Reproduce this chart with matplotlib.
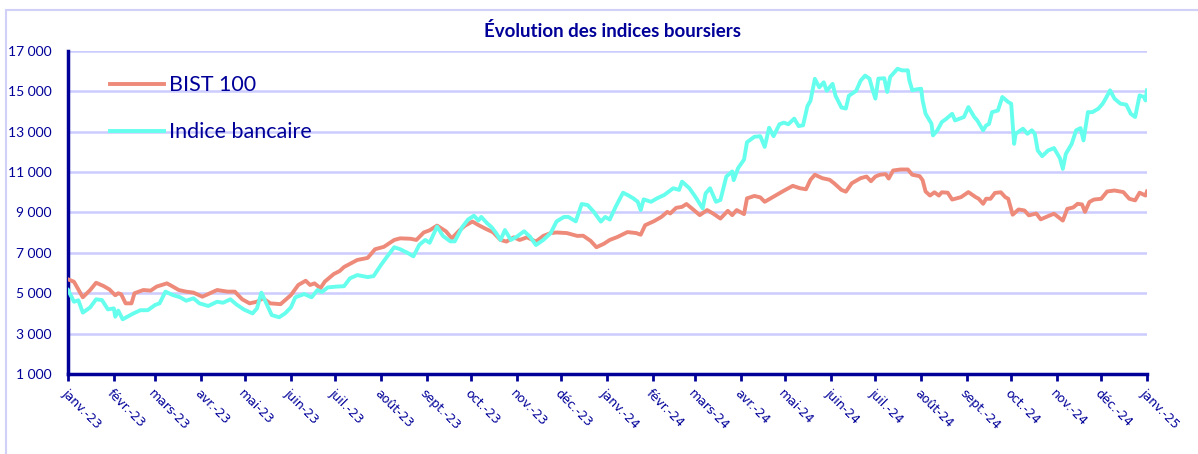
import matplotlib
matplotlib.use("Agg")
import matplotlib.pyplot as plt
import matplotlib.dates as mdates
from matplotlib.patches import Rectangle
import numpy as np
import pandas as pd

# Data (days since 2023-01-01, index level)
bist_days = [0, 4, 7, 10, 15, 19, 24, 28, 32, 34, 36, 39, 43, 45, 51, 56, 60, 67, 71, 75,
             80, 85, 91, 95, 101, 108, 113, 118, 123, 128, 132, 137, 144, 151, 156, 161, 164,
             167, 171, 174, 180, 184, 187, 196, 203, 208, 214, 221, 225, 232, 236, 241, 245,
             250, 256, 260, 265, 269, 274, 278, 283, 288, 293, 297, 302, 306, 311, 317, 322,
             327, 331, 338, 345, 349, 354, 358, 363, 367, 372, 379, 385, 388, 391, 397, 402,
             406, 408, 412, 416, 419, 424, 428, 433, 437, 442, 447, 450, 453, 458, 460, 465,
             469, 472, 476, 480, 485, 491, 496, 500, 503, 506, 511, 516, 519, 524, 527, 531,
             537, 541, 544, 547, 550, 554, 556, 559, 564, 569, 572, 577, 579, 581, 584, 587,
             590, 592, 596, 599, 605, 610, 615, 617, 620, 622, 625, 628, 632, 635, 637, 640,
             644, 648, 651, 656, 659, 664, 668, 674, 677, 681, 684, 687, 689, 692, 695, 700,
             704, 709, 715, 719, 723, 726, 730, 731]
bist_vals = [5690, 5570, 5180, 4800, 5160, 5520, 5360, 5190, 4900, 5000, 4950, 4500, 4500, 5000,
             5160, 5130, 5330, 5490, 5330, 5160, 5080, 5030, 4830, 4960, 5160, 5080, 5080, 4700,
             4500, 4580, 4750, 4500, 4460, 4910, 5410, 5620, 5410, 5490, 5250, 5580, 5950, 6100,
             6300, 6650, 6750, 7180, 7300, 7640, 7720, 7700, 7640, 8010, 8120, 8350, 8070, 7720,
             8100, 8350, 8550, 8380, 8190, 8020, 7640, 7560, 7770, 7640, 7770, 7560, 7840, 7980,
             8010, 7980, 7840, 7850, 7600, 7280, 7450, 7640, 7780, 8030, 7980, 7900, 8370, 8570,
             8780, 9030, 8950, 9230, 9280, 9420, 9120, 8870, 9120, 8950, 8700, 9080, 8870, 9120,
             8920, 9700, 9820, 9750, 9530, 9700, 9870, 10080, 10320, 10200, 10150, 10620, 10870,
             10700, 10620, 10450, 10120, 10030, 10450, 10700, 10780, 10550, 10780, 10870, 10900,
             10680, 11080, 11130, 11130, 10870, 10800, 10600, 10040, 9840, 10000, 9840, 10000,
             9980, 9640, 9760, 10010, 9760, 9680, 9430, 9680, 9680, 9970, 10000, 9760, 9680,
             8890, 9150, 9100, 8860, 8950, 8660, 8820, 8940, 8600, 9180, 9250, 9430, 9400, 9030,
             9520, 9640, 9680, 10040, 10090, 10010, 9680, 9600, 9980, 9840, 10040]

bank_days = [0, 4, 7, 10, 15, 19, 23, 27, 31, 32, 34, 37, 44, 49, 54, 59, 62, 66, 71, 76, 80,
             85, 89, 95, 101, 105, 110, 114, 119, 125, 128, 131, 135, 138, 143, 147, 151, 154,
             160, 165, 169, 172, 176, 182, 187, 191, 196, 203, 207, 212, 216, 221, 225, 230,
             234, 238, 242, 245, 250, 254, 259, 262, 267, 271, 275, 278, 280, 284, 287, 290,
             293, 296, 300, 304, 309, 313, 317, 322, 327, 331, 336, 339, 344, 348, 352, 356,
             361, 364, 367, 371, 376, 379, 383, 386, 388, 390, 395, 399, 404, 410, 414, 416,
             421, 425, 430, 432, 435, 439, 442, 446, 450, 451, 454, 458, 460, 465, 469, 472,
             475, 478, 482, 485, 488, 492, 495, 498, 501, 503, 506, 509, 512, 514, 518, 520,
             524, 527, 529, 534, 537, 540, 543, 545, 547, 549, 553, 555, 557, 562, 565, 569,
             570, 572, 575, 578, 579, 581, 585, 586, 589, 592, 595, 599, 601, 607, 610, 614,
             616, 620, 622, 624, 626, 630, 633, 637, 639, 641, 642, 647, 650, 653, 655, 657,
             660, 664, 668, 672, 674, 676, 680, 683, 686, 688, 691, 694, 698, 701, 703, 706,
             709, 713, 717, 720, 723, 726, 729, 730, 731]
bank_vals = [5160, 4580, 4650, 4040, 4300, 4700, 4660, 4200, 4250, 3840, 4140, 3710, 3990, 4160,
             4160, 4420, 4500, 5080, 4910, 4800, 4630, 4750, 4500, 4370, 4580, 4530, 4700, 4450,
             4200, 4000, 4250, 5030, 4400, 3920, 3810, 4000, 4300, 4800, 4960, 4800, 5160, 5060,
             5290, 5330, 5350, 5740, 5900, 5800, 5850, 6400, 6800, 7280, 7180, 7000, 6830, 7400,
             7640, 7500, 8300, 7840, 7570, 7570, 8270, 8650, 8840, 8600, 8780, 8460, 8270, 7980,
             7640, 8130, 7640, 7800, 8070, 7800, 7390, 7640, 7980, 8560, 8780, 8780, 8560, 9420,
             9370, 9050, 8550, 8780, 8650, 9280, 9980, 9870, 9700, 9530, 9120, 9650, 9530, 9700,
             9870, 10200, 10120, 10530, 10200, 9780, 9200, 9950, 10200, 9530, 9620, 10780, 11030,
             10600, 11200, 11620, 12480, 12750, 12780, 12250, 13200, 12780, 13370, 13450, 13370,
             13650, 13280, 13320, 14280, 14530, 15620, 15200, 15450, 15030, 15370, 14780, 14200,
             14150, 14780, 15030, 15530, 15780, 15630, 15100, 14640, 15630, 15650, 14970, 15710,
             16120, 16040, 16040, 15550, 15050, 15100, 15130, 14550, 13890, 13400, 12820, 13070,
             13480, 13640, 13890, 13560, 13730, 14220, 13730, 13560, 13070, 13310, 13390, 13970,
             14050, 14720, 14470, 14390, 12400, 12900, 13150, 12900, 13070, 12900, 12070, 11790,
             12070, 12190, 11690, 11160, 11900, 12400, 13070, 13180, 12570, 13970, 13970, 14140,
             14390, 14640, 15050, 14640, 14390, 14340, 13890, 13730, 14800, 14720, 14550, 15050]

month_labels = ["janv.-23", "févr.-23", "mars-23", "avr.-23", "mai-23", "juin-23", "juil.-23",
                "août-23", "sept.-23", "oct.-23", "nov.-23", "déc.-23", "janv.-24", "févr.-24",
                "mars-24", "avr.-24", "mai-24", "juin-24", "juil.-24", "août-24", "sept.-24",
                "oct.-24", "nov.-24", "déc.-24", "janv.-25"]
y_ticks = [1000, 3000, 5000, 7000, 9000, 11000, 13000, 15000, 17000]

navy = "#000099"
grid_col = "#CCCCFF"
start = pd.Timestamp("2023-01-01")
bist_dates = start + pd.to_timedelta(bist_days, unit="D")
bank_dates = start + pd.to_timedelta(bank_days, unit="D")
month_ticks = pd.date_range("2023-01-01", "2025-01-01", freq="MS")

fig = plt.figure(figsize=(11.98, 4.54), dpi=100)
fig.patches.append(Rectangle((0.005, -0.2), 1.2, 1.178, transform=fig.transFigure,
                             fill=False, edgecolor="#D0D0F8", linewidth=1.5))
ax = fig.add_axes([0.0568, 0.1762, 0.9006, 0.7115])

ax.plot(bist_dates, bist_vals, color="#EE8A7A", lw=2.8, label="BIST 100", zorder=3)
ax.plot(bank_dates, bank_vals, color="#66FFEE", lw=2.8, label="Indice bancaire", zorder=3)

ax.set_xlim(start, pd.Timestamp("2025-01-01"))
ax.set_ylim(1000, 17000)
ax.set_yticks(y_ticks)
ax.set_yticklabels([f"{v:,}".replace(",", " ") for v in y_ticks],
                   fontsize=10, color=navy, family="Lato")
ax.set_xticks(month_ticks)
ax.set_xticklabels(month_labels, rotation=-45, ha="left", va="top", rotation_mode="anchor",
                   fontsize=9, color=navy)
ax.tick_params(axis="y", length=0, pad=12)
ax.tick_params(axis="x", length=5, width=2, color=navy, direction="out", pad=4)
ax.grid(axis="y", color=grid_col, lw=1.8, zorder=0)
ax.set_axisbelow(True)
for s in ["top", "right"]:
    ax.spines[s].set_visible(False)
for s in ["left", "bottom"]:
    ax.spines[s].set_color(navy)
    ax.spines[s].set_linewidth(2.5)

leg = ax.legend(loc="upper left", bbox_to_anchor=(0.021, 0.985), frameon=False,
                prop={"family": "Lato", "size": 15.5}, handlelength=2.5, labelspacing=1.25,
                handletextpad=0.25)
for t in leg.get_texts():
    t.set_color(navy)

fig.text(0.511, 0.932, "Évolution des indices boursiers", ha="center", va="center",
         fontsize=13.5, fontweight="bold", color=navy, family="Lato")

fig.savefig("out.png", dpi=100)
